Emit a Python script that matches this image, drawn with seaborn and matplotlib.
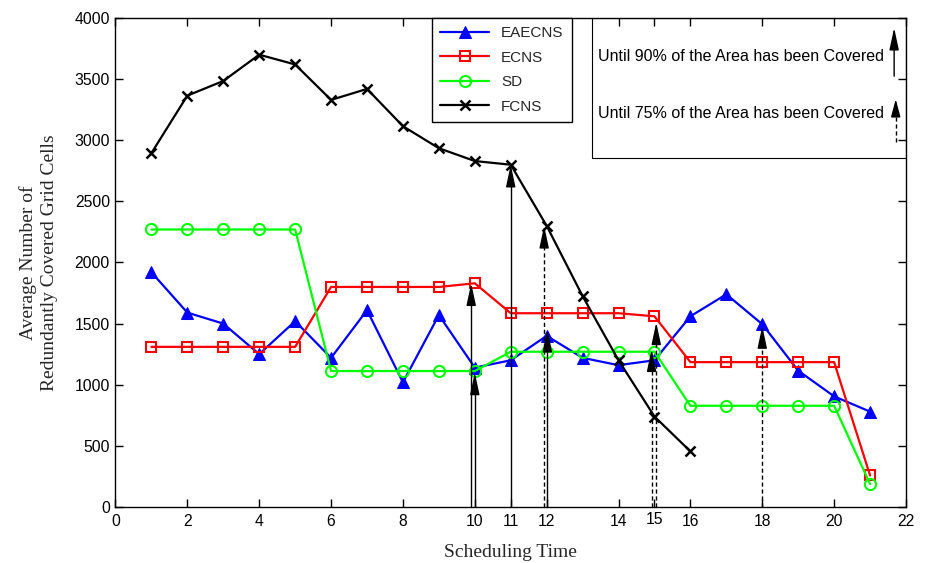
import matplotlib
matplotlib.use('Agg')
import matplotlib.pyplot as plt
import matplotlib.transforms as mtransforms
import seaborn as sns
import pandas as pd
from matplotlib.patches import Rectangle

# ---- data ----
t_full = list(range(1, 22))
t_fcns = list(range(1, 17))
eaecns = [1920, 1590, 1500, 1250, 1520, 1220, 1610, 1020, 1570, 1140, 1200,
          1400, 1220, 1160, 1200, 1560, 1740, 1495, 1115, 905, 780]
ecns = [1310, 1310, 1310, 1310, 1310, 1800, 1800, 1800, 1800, 1830, 1585,
        1585, 1585, 1585, 1560, 1185, 1185, 1185, 1185, 1185, 258]
sd = [2270, 2270, 2270, 2270, 2270, 1112, 1112, 1112, 1112, 1112, 1270,
      1270, 1270, 1270, 1270, 828, 828, 828, 828, 828, 188]
fcns = [2895, 3365, 3485, 3700, 3620, 3330, 3420, 3115, 2935, 2830, 2800,
        2300, 1725, 1200, 740, 455]

arrow_x = [9.9, 10.0, 11.0, 11.93, 12.02, 14.92, 15.05, 18.0]
arrow_top = [1830, 1100, 2800, 2300, 1450, 1290, 1510, 1480]
arrow_dashed = [False, False, False, True, False, True, True, True]

xticks = [0, 2, 4, 6, 8, 10, 11, 12, 14, 15, 16, 18, 20, 22]
yticks = [0, 500, 1000, 1500, 2000, 2500, 3000, 3500, 4000]

sns.set_theme(style='white')
plt.rcParams['font.family'] = ['Liberation Sans', 'DejaVu Sans']

fig = plt.figure(figsize=(9.26, 5.63), dpi=100)
ax = fig.add_axes([0.1247, 0.0995, 0.8537, 0.8685])

series = [
    ('EAECNS', t_full, eaecns, dict(color='#0000ff', marker='^', markersize=8,
                                     markerfacecolor='#0000ff', markeredgecolor='#0000ff')),
    ('ECNS', t_full, ecns, dict(color='#ff0000', marker='s', markersize=7,
                                 markerfacecolor='none', markeredgecolor='#ff0000', markeredgewidth=1.5)),
    ('SD', t_full, sd, dict(color='#00ff00', marker='o', markersize=8,
                             markerfacecolor='none', markeredgecolor='#00ff00', markeredgewidth=1.5)),
    ('FCNS', t_fcns, fcns, dict(color='black', marker='x', markersize=7,
                                 markeredgecolor='black', markeredgewidth=1.8)),
]
for name, xs, ys, style in series:
    df = pd.DataFrame({'t': xs, 'v': ys})
    sns.lineplot(data=df, x='t', y='v', ax=ax, label=name, linewidth=1.6, **style)

AST = '-|>,head_length=0.75,head_width=0.16'
# arrows
for xa, top, dashed in zip(arrow_x, arrow_top, arrow_dashed):
    ax.plot([xa, xa], [0, top - 120], color='black', lw=1.0,
            ls=(0, (3, 2)) if dashed else '-', zorder=5)
    ax.annotate('', xy=(xa, top), xytext=(xa, top - 160),
                arrowprops=dict(arrowstyle=AST, mutation_scale=18, lw=1.0,
                                color='black', shrinkA=0, shrinkB=0), zorder=6)

ax.set_xlim(0, 22)
ax.set_ylim(0, 4000)
ax.set_xticks(xticks)
ax.set_xticklabels([str(v) for v in xticks])
ax.set_yticks(yticks)
ax.tick_params(direction='in', length=6, width=1, colors='black', labelsize=11.3,
               top=True, right=True, bottom=True, left=True)
ax.tick_params(axis='x', pad=5)
ax.tick_params(axis='y', pad=4)
for sp in ax.spines.values():
    sp.set_color('black')
    sp.set_linewidth(1.0)

# "15" label sits a little higher in the reference
for lbl in ax.get_xticklabels():
    if lbl.get_text() == '15':
        lbl.set_transform(lbl.get_transform() +
                          mtransforms.ScaledTranslation(0, 1.5 / 72, fig.dpi_scale_trans))

ax.set_xlabel('Scheduling Time', family='Liberation Serif', fontsize=14, labelpad=11)
ax.set_ylabel('Average Number of\nRedundantly Covered Grid Cells',
              family='Liberation Serif', fontsize=14, labelpad=12, linespacing=1.3)

leg = ax.legend(loc='upper left', bbox_to_anchor=(0.400, 1.0), borderaxespad=0,
                fancybox=False, edgecolor='black', framealpha=1, fontsize=11,
                handlelength=3.2, labelspacing=0.68, borderpad=0.55)
leg.get_frame().set_linewidth(1.0)

# annotation box
ax.add_patch(Rectangle((0.603, 0.714), 0.397, 0.286, transform=ax.transAxes,
                       fill=False, edgecolor='black', lw=0.8, zorder=7))
ax.text(0.610, 0.922, 'Until 90% of the Area has been Covered', transform=ax.transAxes,
        fontsize=11.5, va='center', ha='left', color='black')
ax.text(0.610, 0.804, 'Until 75% of the Area has been Covered', transform=ax.transAxes,
        fontsize=11.5, va='center', ha='left', color='black')
ax.annotate('', xy=(0.985, 0.980), xytext=(0.985, 0.881), xycoords='axes fraction',
            arrowprops=dict(arrowstyle=AST, mutation_scale=18, lw=1.0, color='black',
                            shrinkA=0, shrinkB=0))
ax.plot([0.987, 0.987], [0.746, 0.80], transform=ax.transAxes, color='black',
        lw=1.0, ls=(0, (3, 2)))
ax.annotate('', xy=(0.987, 0.834), xytext=(0.987, 0.800), xycoords='axes fraction',
            arrowprops=dict(arrowstyle='-|>,head_length=0.6,head_width=0.16',
                            mutation_scale=18, lw=1.0, color='black', shrinkA=0, shrinkB=0))

fig.savefig('out.png', dpi=100)
